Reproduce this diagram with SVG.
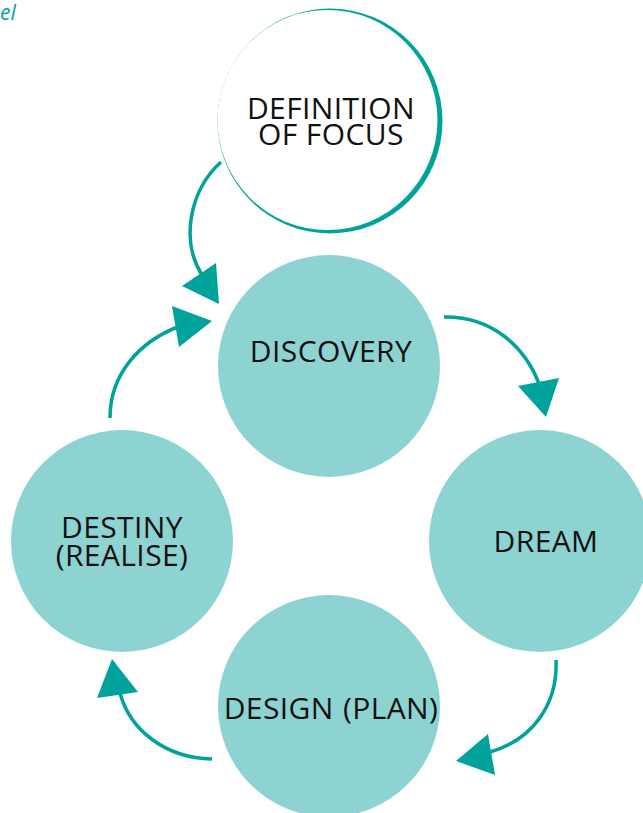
<svg xmlns="http://www.w3.org/2000/svg" width="643" height="813" viewBox="0 0 643 813">
<style>
.node{fill:#8DD3D2}
.lbl{font-family:"Open Sans","Noto Sans",sans-serif;font-size:30px;letter-spacing:0.4px;fill:#111;text-anchor:middle}
.conn{fill:none;stroke:#00A39B;stroke-width:3.5;stroke-linecap:butt}
.head{fill:#00A39B}
</style>
<rect width="643" height="813" fill="#fff"/>
<text x="0" y="20" style="font-family:'Open Sans','Noto Sans',sans-serif;font-size:21px;font-style:italic;fill:#00A39B">el</text>
<g id="definition">
<circle cx="330" cy="121" r="112.5" fill="#00A39B"/>
<circle cx="327.5" cy="120" r="110" fill="#fff"/>
<text class="lbl" x="331" y="119">DEFINITION</text>
<text class="lbl" x="331" y="145">OF FOCUS</text>
</g>
<g id="discovery">
<circle class="node" cx="329" cy="366" r="111"/>
<text class="lbl" x="331" y="362">DISCOVERY</text>
</g>
<g id="dream">
<circle class="node" cx="540" cy="541" r="111"/>
<text class="lbl" x="546" y="552">DREAM</text>
</g>
<g id="design">
<circle class="node" cx="329" cy="706" r="111"/>
<text class="lbl" x="331" y="719" style="word-spacing:1px">DESIGN (PLAN)</text>
</g>
<g id="destiny">
<circle class="node" cx="122" cy="541" r="111"/>
<text class="lbl" x="122" y="538">DESTINY</text>
<text class="lbl" x="122" y="566">(REALISE)</text>
</g>
<g id="connectors">
<path class="conn" d="M221,162 C190,190 180,240 202,275"/>
<polygon class="head" points="182,286 216,263 219,304"/>
<path class="conn" d="M110,418 C110,375 138,342 180,326"/>
<polygon class="head" points="172,306 212,321 179,347"/>
<path class="conn" d="M444,317 C490,316 525,345 540,386"/>
<polygon class="head" points="518,386 559,378 546,417"/>
<path class="conn" d="M556,660 C558,705 532,740 490,752"/>
<polygon class="head" points="456,761 488,734 495,775"/>
<path class="conn" d="M212,759 C165,758 130,730 120,693"/>
<polygon class="head" points="112,659 138,692 97,698"/>
</g>
</svg>
